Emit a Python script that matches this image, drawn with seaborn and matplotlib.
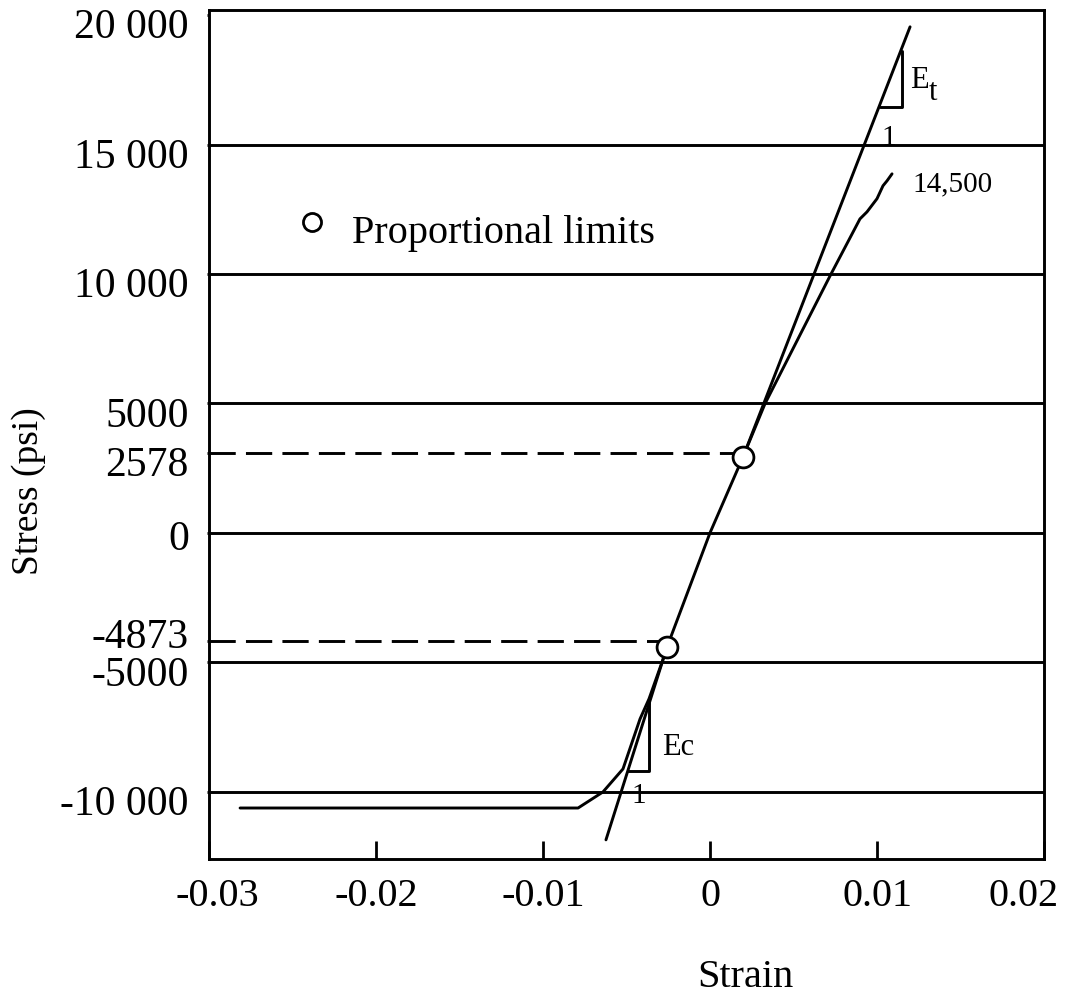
import numpy as np
import pandas as pd
import seaborn as sns
import matplotlib.pyplot as plt
from matplotlib.transforms import ScaledTranslation

sns.set_theme(style="white")
plt.rcParams['font.family'] = ['Liberation Serif', 'DejaVu Serif']
plt.rcParams['text.color'] = 'black'
plt.rcParams['axes.labelcolor'] = 'black'
plt.rcParams['xtick.color'] = 'black'
plt.rcParams['ytick.color'] = 'black'

# measured stress-strain curve
strain = [-0.02814, -0.00790, -0.00641, -0.00521, -0.00419, -0.00365, -0.00287, -0.00257,
          0.0, 0.00198, 0.00329, 0.00719, 0.00898, 0.00940, 0.01000, 0.01036, 0.01060, 0.01090]
stress = [-10630, -10630, -10010, -9120, -7190, -6410, -4990, -4405,
          0, 2937, 4985, 9930, 12130, 12400, 12910, 13410, 13600, 13870]

# tangent (modulus) lines: tension from the upper limit, compression down from the lower one
et_strain = [0.00198, 0.01198]
et_stress = [2937, 19550]
ec_strain = [-0.00623, -0.00257]
ec_stress = [-11860, -4405]

# proportional limits (circles) and the dashed lines / labels belonging to them
pl_strain = [-0.00257, 0.00198]
pl_stress = [-4405, 2937]
pl_dash_y = [-4173, 3091]

# slope triangles
et_tri_x = [0.01018, 0.01150, 0.01150]
et_tri_y = [16457, 16457, 18620]
ec_tri_x = [-0.00491, -0.00365, -0.00365]
ec_tri_y = [-9196, -9196, -6491]

grid_levels = [15000, 10000, 5000, 0, -5000, -10000]
ytick_pos = [20000, 15000, 10000, 5000, 3091, 0, -4173, -5000, -10000]
ytick_lab = ['20 000', '15 000', '10 000', '5000', '2578', '0', '-4873', '-5000', '-10 000']
xtick_pos = [-0.03, -0.02, -0.01, 0, 0.01, 0.02]
xtick_lab = ['-0.03', '-0.02', '-0.01', '0', '0.01', '0.02']

df = pd.DataFrame({"strain": strain, "stress": stress})
df_et = pd.DataFrame({"strain": et_strain, "stress": et_stress})
df_ec = pd.DataFrame({"strain": ec_strain, "stress": ec_stress})

fig = plt.figure(figsize=(10.66, 10.03), dpi=100)
ax = fig.add_axes([209 / 1066, 1 - 860 / 1003, 835 / 1066, 849 / 1003])

lw = 2.1
for lev in grid_levels:
    ax.axhline(lev, color='black', lw=lw, zorder=1)

for yd, xd in zip(pl_dash_y, pl_strain):
    ax.plot([-0.03, xd], [yd, yd], color='black', lw=lw, linestyle=(0, (9, 3.5)), zorder=2)

for d in (df, df_et, df_ec):
    sns.lineplot(data=d, x="strain", y="stress", sort=False, estimator=None,
                 color='black', lw=lw, ax=ax, zorder=3)
ax.plot(et_tri_x, et_tri_y, color='black', lw=lw, zorder=3)
ax.plot(ec_tri_x, ec_tri_y, color='black', lw=lw, zorder=3)

ax.plot(pl_strain, pl_stress, linestyle='none', marker='o', markersize=15,
        markerfacecolor='white', markeredgecolor='black', markeredgewidth=2, zorder=5)

# legend drawn by hand
ax.plot([-0.02383], [12017], linestyle='none', marker='o', markersize=13,
        markerfacecolor='white', markeredgecolor='black', markeredgewidth=2, zorder=5)
ax.text(-0.02144, 11244, 'Proportional limits', fontsize=29, ha='left', va='baseline')

# annotations
ax.text(0.01210, 13215, '14,500', fontsize=21, ha='left', va='baseline')
ax.text(0.01198, 17233, 'E', fontsize=22, ha='left', va='baseline')
ax.text(0.01311, 16770, 't', fontsize=22, ha='left', va='baseline')
ax.text(0.01072, 15031, '1', fontsize=21, ha='center', va='baseline')
ax.text(-0.00287, -8539, 'Ec', fontsize=22, ha='left', va='baseline')
ax.text(-0.00425, -10394, '1', fontsize=21, ha='center', va='baseline')

ax.set_xlim(-0.03, 0.02)
ax.set_ylim(-12600, 20200)

ax.set_xticks(xtick_pos)
ax.set_xticklabels(xtick_lab, fontsize=29)
ax.set_yticks(ytick_pos)
ax.set_yticklabels(ytick_lab, fontsize=30)
ax.tick_params(axis='x', direction='in', length=13, width=2, color='black', pad=13, bottom=True)
ax.tick_params(axis='y', direction='out', length=1.5, width=2, color='black', pad=13, left=True)

for lbl in ax.get_yticklabels():
    lbl.set_va('center')
    dy = -12 if lbl.get_text() != '-4873' else 4
    if lbl.get_text() == '0':
        dy = -6
    lbl.set_transform(lbl.get_transform() + ScaledTranslation(0, dy / 100, fig.dpi_scale_trans))

# end labels sit a little inside the frame in the reference
xshift = {'-0.03': 8, '0.02': -20}
for lbl in ax.get_xticklabels():
    dx = xshift.get(lbl.get_text(), 0)
    lbl.set_transform(lbl.get_transform() + ScaledTranslation(dx / 100, 0, fig.dpi_scale_trans))

for sp in ax.spines.values():
    sp.set_color('black')
    sp.set_linewidth(lw)

ax.set_xlabel('Strain', fontsize=29)
ax.set_ylabel('Stress (psi)', fontsize=27)
ax.xaxis.set_label_coords(0.642, -0.117)
ax.yaxis.set_label_coords(-0.195, 0.435)

fig.savefig('out.png', dpi=100)
